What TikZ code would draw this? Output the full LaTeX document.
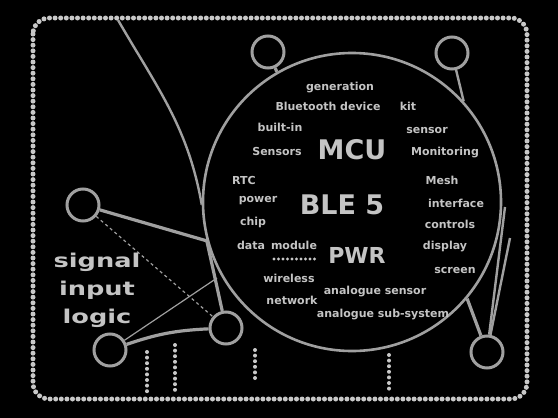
\documentclass[tikz,border=0pt]{standalone}
\usepackage{fontspec}
\usepackage{graphicx}
\setsansfont{DejaVu Sans}
\begin{document}
\begin{tikzpicture}[x=1pt,y=-1pt]
   \definecolor{inkgray}{HTML}{A0A0A0}
   \definecolor{txtgray}{HTML}{C4C4C4}
   \definecolor{beadgray}{HTML}{C8C8C8}
   \tikzset{
     wire/.style={inkgray,line width=2.4pt},
     thinwire/.style={inkgray,line width=1.2pt},
     ring/.style={circle,draw=inkgray,line width=3pt,minimum size=32pt,inner sep=0pt},
     beads/.style={beadgray,line width=5pt,line cap=round,dash pattern=on 0pt off 5.6pt},
     word/.style={txtgray,font=\sffamily\bfseries\fontsize{11}{12}\selectfont,inner sep=0pt},
     bigword/.style={txtgray,font=\sffamily\bfseries\fontsize{27}{28}\selectfont,inner sep=0pt},
     sideword/.style={txtgray,font=\sffamily\bfseries\fontsize{19}{20}\selectfont,inner sep=0pt}
   }
   \fill [black] (0,0) rectangle (558,418);
   \useasboundingbox (0,0) rectangle (558,418);
   \draw [beads,rounded corners=16pt] (33,18) rectangle (527,399);
   % hub and rings
   \node [circle,draw=inkgray,line width=2.6pt,minimum size=298pt,inner sep=0pt] (hub) at (352,202) {};
   \node [ring] (ringtl) at (268,52) {};
   \node [ring] (ringtr) at (452,53) {};
   \node [ring] (ringl) at (83,205) {};
   \node [ring] (ringbl) at (110,350) {};
   \node [ring] (ringbm) at (226,328) {};
   \node [ring] (ringbr) at (487,352) {};
   \coordinate (topfoot) at (118,20);
   \coordinate (kink) at (hub.195);
   \coordinate (cross) at (217,278);
   \coordinate (rtip) at (505,207);
   \coordinate (rtip2) at (510,238);
   % connectors
   \draw [wire] (topfoot) to[out=-60,in=100] (hub.181);
   \draw [wire,line width=3.2pt] (ringtl) -- (hub.120);
   \draw [wire] (ringtr) -- (hub.42);
   \draw [wire,line width=3.2pt] (ringl) -- (kink);
   \draw [wire,line width=3.2pt] (kink) -- (ringbm);
   \draw [thinwire,dashed] (ringl) -- (ringbm);
   \draw [thinwire] (ringbl) -- (cross);
   \draw [wire,line width=3.2pt] (ringbl) to[bend left=8] (ringbm);
   \draw [wire,line width=3.2pt] (ringbr) -- (hub.-40);
   \draw [wire] (ringbr) -- (rtip);
   \draw [wire] (ringbr) -- (rtip2);
   % dotted drops
   \draw [beads,line width=4pt] (147,352) -- (147,392);
   \draw [beads,line width=4pt] (175,345) -- (175,392);
   \draw [beads,line width=4pt] (255,350) -- (255,378);
   \draw [beads,line width=4pt] (389,355) -- (389,393);
   \draw [beads,line width=3.4pt,dash pattern=on 0pt off 4.5pt] (274,259) -- (316,259);
   % side block
   \node [sideword] (sidea) at (97,262) {\scalebox{1.35}[1]{signal}};
   \node [sideword] (sideb) at (97,290) {\scalebox{1.35}[1]{input}};
   \node [sideword] (sidec) at (97,318) {\scalebox{1.35}[1]{logic}};
   % words in the hub
   \node [word] (w1) at (340,88) {generation};
   \node [word] (w2) at (328,106) {Bluetooth device};
   \node [word] (w3) at (408,106) {kit};
   \node [word] (w4) at (280,127) {built-in};
   \node [word] (w5) at (427,130) {sensor};
   \node [word] (w6) at (277,151) {Sensors};
   \node [bigword] (mcu) at (352,150) {MCU};
   \node [word] (w7) at (445,153) {Monitoring};
   \node [word] (w8) at (244,180) {RTC};
   \node [word] (w9) at (442,180) {Mesh};
   \node [word] (w10) at (258,201) {power};
   \node [bigword] (ble) at (342,205) {BLE 5};
   \node [word] (w11) at (456,203) {interface};
   \node [word] (w12) at (253,222) {chip};
   \node [word] (w13) at (450,224) {controls};
   \node [word] (w14) at (251,245) {data};
   \node [word] (w15) at (294,245) {module};
   \node [bigword,font=\sffamily\bfseries\fontsize{22}{23}\selectfont] (pwr) at (357,255) {PWR};
   \node [word] (w16) at (445,247) {display};
   \node [word] (w17) at (289,278) {wireless};
   \node [word] (w18) at (455,270) {screen};
   \node [word] (w19) at (292,300) {network};
   \node [word] (w20) at (375,292) {analogue sensor};
   \node [word] (w21) at (383,315) {analogue sub-system};
\end{tikzpicture}
\end{document}
